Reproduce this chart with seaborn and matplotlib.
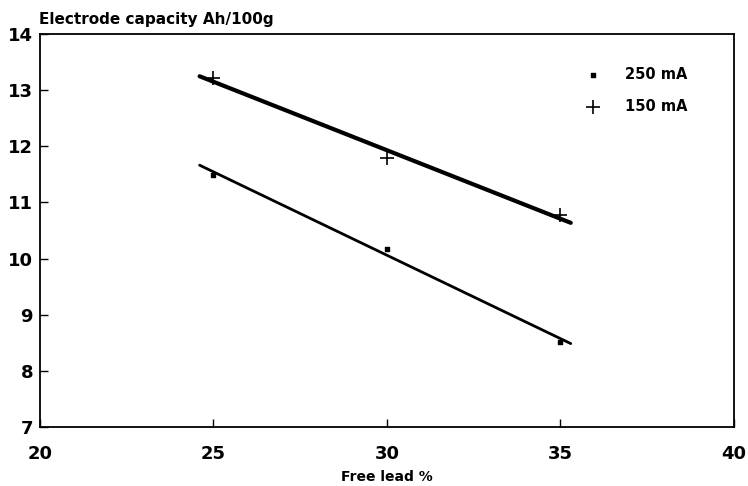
import numpy as np
import pandas as pd
import matplotlib
matplotlib.use("Agg")
import matplotlib.pyplot as plt
import seaborn as sns

free_lead = [25, 30, 35]
cap_250 = [11.49, 10.17, 8.52]
cap_150 = [13.22, 11.79, 10.78]
fit_span = [24.6, 35.3]
series = ["250 mA", "150 mA"]

sns.set_style("ticks")
plt.rcParams["font.family"] = ["DejaVu Sans"]
plt.rcParams["font.weight"] = "bold"
plt.rcParams["text.color"] = "black"
plt.rcParams["xtick.color"] = "black"
plt.rcParams["ytick.color"] = "black"
plt.rcParams["axes.labelcolor"] = "black"

pts = pd.DataFrame({
    "lead": free_lead * 2,
    "cap": cap_250 + cap_150,
    "series": [series[0]] * 3 + [series[1]] * 3,
})

# least squares lines through each series
rows = []
for name, vals in zip(series, [cap_250, cap_150]):
    k, b = np.polyfit(free_lead, vals, 1)
    for x in fit_span:
        rows.append({"lead": x, "cap": k * x + b, "series": name})
fits = pd.DataFrame(rows)

fig = plt.figure(figsize=(7.48, 4.86), dpi=100)
ax = fig.add_axes([0.0535, 0.1214, 0.9275, 0.8086])

sns.lineplot(data=fits[fits.series == series[0]], x="lead", y="cap", color="black",
             lw=2.0, ax=ax, legend=False)
sns.lineplot(data=fits[fits.series == series[1]], x="lead", y="cap", color="black",
             lw=3.0, ax=ax, legend=False)

d250 = pts[pts.series == series[0]]
d150 = pts[pts.series == series[1]]
ax.scatter(d250.lead, d250.cap, marker="s", s=9, color="black", label=series[0], zorder=3)
ax.scatter(d150.lead, d150.cap, marker="+", s=110, color="black", linewidths=1.2,
           label=series[1], zorder=3)

ax.set_xlim(20, 40)
ax.set_ylim(7, 14)
ax.set_xticks([20, 25, 30, 35, 40])
ax.set_yticks(range(7, 15))
ax.tick_params(direction="in", length=6, width=1, labelsize=13)
ax.tick_params(axis="x", pad=13)
ax.tick_params(axis="y", pad=5)
for lab in ax.get_xticklabels() + ax.get_yticklabels():
    lab.set_fontweight("bold")
for sp in ax.spines.values():
    sp.set_linewidth(1.3)
    sp.set_color("black")

ax.set_xlabel("Free lead %", fontsize=10, fontweight="bold", labelpad=5)
ax.set_ylabel("")
fig.text(0.052, 0.951, "Electrode capacity Ah/100g", fontsize=11, fontweight="bold",
         ha="left", va="baseline")

ax.legend(loc="upper left", bbox_to_anchor=(0.757, 0.95), frameon=False,
          handletextpad=1.2, labelspacing=1.2, prop={"weight": "bold", "size": 10.5})

fig.savefig("out.png", dpi=100)
